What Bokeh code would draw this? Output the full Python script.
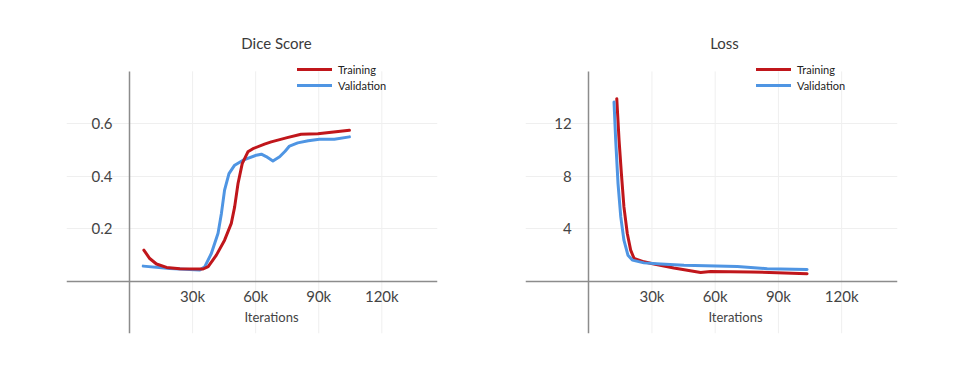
from bokeh.plotting import figure
from bokeh.layouts import row
from bokeh.models import FixedTicker, Legend, LegendItem, Label, Range1d
from bokeh.embed import file_html
from bokeh.resources import INLINE

# ---- data ----
dice_train_x = [6800, 9600, 12800, 17600, 23900, 35000, 37400, 41300, 45200, 48400, 50000, 51600, 53600,
                56300, 58700, 64200, 67400, 75000, 81600, 89600, 104600]
dice_train_y = [0.118, 0.086, 0.065, 0.052, 0.047, 0.046, 0.055, 0.099, 0.156, 0.220, 0.283, 0.372, 0.448,
                0.493, 0.505, 0.522, 0.531, 0.547, 0.560, 0.562, 0.575]
dice_val_x = [6500, 19100, 33400, 35800, 38900, 42100, 43700, 45200, 47300, 50000, 54000, 60300, 62700,
              65000, 68200, 71400, 74000, 76100, 80000, 85000, 90300, 97400, 104600]
dice_val_y = [0.057, 0.048, 0.042, 0.055, 0.105, 0.182, 0.258, 0.347, 0.410, 0.442, 0.461, 0.480, 0.484,
              0.475, 0.458, 0.474, 0.495, 0.515, 0.527, 0.535, 0.541, 0.541, 0.550]

loss_train_x = [13300, 14400, 15500, 16700, 18300, 19900, 21500, 26200, 30900, 40400, 53100, 57800, 76800, 103600]
loss_train_y = [13.92, 10.74, 8.20, 5.66, 3.63, 2.36, 1.73, 1.47, 1.30, 1.00, 0.66, 0.73, 0.70, 0.56]
loss_val_x = [12000, 12800, 13900, 15200, 16700, 18600, 20700, 26200, 34100, 45200, 70500, 84700, 103600]
loss_val_y = [13.66, 10.74, 7.44, 4.90, 3.12, 1.98, 1.60, 1.39, 1.30, 1.20, 1.12, 0.95, 0.88]

x_ticks = [30000, 60000, 90000, 120000]
x_tick_labels = ["30k", "60k", "90k", "120k"]
dice_ticks = [0.2, 0.4, 0.6]
dice_tick_labels = ["0.2", "0.4", "0.6"]
loss_ticks = [4, 8, 12]
loss_tick_labels = ["4", "8", "12"]

titles = ["Dice Score", "Loss"]
series_names = ["Training", "Validation"]
x_label = "Iterations"

RED = "#c0161b"
BLUE = "#4f95e3"
FONT = "Lato"


def make_panel(title, tx, ty, vx, vy, yticks, ylabels, ybounds, ytop, bl, br, title_x, lab_x, red_on_top):
    p = figure(width=489, height=367, output_backend="svg", toolbar_location=None,
               x_range=Range1d(-30000, 146500), y_range=Range1d(ybounds[0], ytop),
               min_border_left=bl, min_border_right=br, min_border_top=10, min_border_bottom=34)
    p.outline_line_color = None
    p.background_fill_color = "white"
    p.border_fill_color = "white"

    for ax in (p.xaxis, p.yaxis):
        ax.axis_line_color = "#8c8c8c"
        ax.axis_line_width = 1.5
        ax.major_tick_line_color = None
        ax.minor_tick_line_color = None
        ax.major_label_text_font = FONT
        ax.major_label_text_font_size = "15px"
        ax.major_label_text_color = "#444444"
    p.xaxis.fixed_location = 0
    p.yaxis.fixed_location = 0
    p.yaxis.bounds = ybounds
    p.xaxis.ticker = FixedTicker(ticks=x_ticks)
    p.yaxis.ticker = FixedTicker(ticks=yticks)
    p.xaxis.major_label_overrides = dict(zip(x_ticks, x_tick_labels))
    p.yaxis.major_label_overrides = dict(zip(yticks, ylabels))
    p.xaxis.major_label_standoff = 0
    p.yaxis.major_label_standoff = 11

    # horizontal grid via Grid; vertical grid as segments limited to the y-axis span
    p.xgrid.visible = False
    p.ygrid.ticker = FixedTicker(ticks=yticks)
    p.ygrid.grid_line_color = "#efefef"
    p.ygrid.grid_line_width = 1
    p.segment(x0=x_ticks, x1=x_ticks, y0=[ybounds[0]] * len(x_ticks), y1=[ybounds[1]] * len(x_ticks),
              line_color="#efefef", line_width=1)

    if red_on_top:
        rv = p.line(vx, vy, line_color=BLUE, line_width=3, line_join="round", line_cap="round")
        rt = p.line(tx, ty, line_color=RED, line_width=3, line_join="round", line_cap="round")
    else:
        rt = p.line(tx, ty, line_color=RED, line_width=3, line_join="round", line_cap="round")
        rv = p.line(vx, vy, line_color=BLUE, line_width=3, line_join="round", line_cap="round")

    legend = Legend(items=[LegendItem(label=series_names[0], renderers=[rt]),
                           LegendItem(label=series_names[1], renderers=[rv])],
                    location=(231, 240), orientation="vertical",
                    glyph_width=35, glyph_height=16, label_height=16, spacing=0,
                    padding=0, margin=0, label_standoff=6,
                    label_text_font=FONT, label_text_font_size="11px",
                    label_text_color="#222222",
                    background_fill_alpha=0, border_line_color=None)
    p.add_layout(legend, "center")

    p.add_layout(Label(x=title_x, y=291, x_units="screen", y_units="screen", text=title,
                       text_font=FONT, text_font_size="15px", text_color="#3a3a3a",
                       text_align="center", text_baseline="middle"))
    p.add_layout(Label(x=lab_x, y=17, x_units="screen", y_units="screen", text=x_label,
                       text_font=FONT, text_font_size="13px", text_color="#444444",
                       text_align="center", text_baseline="middle"))
    return p


p1 = make_panel(titles[0], dice_train_x, dice_train_y, dice_val_x, dice_val_y,
                dice_ticks, dice_tick_labels, (-0.2, 0.8), 1.032, 66, 52, 210, 205, True)
p2 = make_panel(titles[1], loss_train_x, loss_train_y, loss_val_x, loss_val_y,
                loss_ticks, loss_tick_labels, (-4, 16), 20.65, 36, 81, 199, 210, False)

layout = row(p1, p2)
open("out.html", "w").write(file_html(layout, INLINE))
